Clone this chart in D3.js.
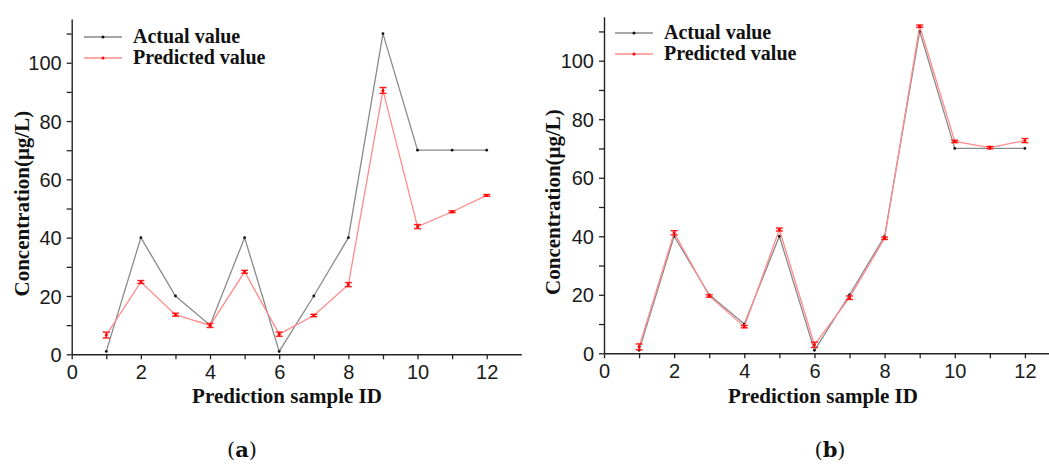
<!DOCTYPE html>
<html>
<head>
<meta charset="utf-8">
<script src="https://cdn.jsdelivr.net/npm/d3@7"></script>
<style>
  body { margin: 0; background: #fff; }
  .tick text { font-family: "Liberation Sans", Arial, sans-serif; font-size: 20px; fill: #1a1a1a; }
  .axis-title, .legend text { font-family: "Liberation Serif", "Times New Roman", serif; font-weight: bold; fill: #111; }
</style>
</head>
<body>
<div id="chart"></div>
<script>
// sample IDs
var sampleIds = [1, 2, 3, 4, 5, 6, 7, 8, 9, 10, 11, 12];

// actual concentration, same in both panels
var actualValues = [1, 40, 20, 10, 40, 1, 20, 40, 110, 70, 70, 70];

// panel (a) prediction and error
var predictedA = [6.6, 24.8, 13.6, 9.9, 28.3, 6.9, 13.3, 23.9, 90.5, 43.8, 48.9, 54.5];
var errorA = [1.0, 0.5, 0.5, 0.7, 0.5, 0.7, 0.4, 0.7, 1.0, 0.7, 0.3, 0.3];

// panel (b) prediction and error
var predictedB = [2.2, 41.2, 19.6, 9.1, 42.3, 2.9, 19.0, 39.3, 111.8, 72.4, 70.3, 72.7];
var errorB = [1.0, 0.7, 0.4, 0.4, 0.5, 0.9, 0.6, 0.4, 0.4, 0.4, 0.4, 0.7];

var xMajorTicks = [0, 2, 4, 6, 8, 10, 12];
var xMinorTicks = [1, 3, 5, 7, 9, 11];
var yMajorTicks = [0, 20, 40, 60, 80, 100];
var yMinorTicks = [10, 30, 50, 70, 90, 110];

var seriesNames = ["Actual value", "Predicted value"];
var panelLabels = ["a", "b"];

var svgWidth = 1049;
var svgHeight = 464;

var svg = d3.select("#chart").append("svg")
  .attr("width", svgWidth)
  .attr("height", svgHeight);

// layout of each panel (pixel frame only)
var panels = [
  { x0: 71.7, x1: 521.3, y0: 354.3, y1: 19.0, predicted: predictedA, error: errorA,
    yTitleX: 22, xTitleX: 287, legendX: 84, legendY: 37, tag: 242 },
  { x0: 604, x1: 1060, y0: 353.3, y1: 16.8, predicted: predictedB, error: errorB,
    yTitleX: 553, xTitleX: 823, legendX: 615, legendY: 33, tag: 830 }
];

function drawPanel(p, idx) {
  var g = svg.append("g");

  var x = d3.scaleLinear().domain([0, 13]).range([p.x0, p.x1]);
  var y = d3.scaleLinear().domain([0, 115]).range([p.y0, p.y1]);

  // minor ticks
  g.append("g")
    .attr("transform", `translate(0, ${p.y0})`)
    .call(d3.axisBottom(x).tickValues(xMinorTicks).tickSize(5).tickFormat(""))
    .call(a => a.select(".domain").remove());
  g.append("g")
    .attr("transform", `translate(${p.x0}, 0)`)
    .call(d3.axisLeft(y).tickValues(yMinorTicks).tickSize(5).tickFormat(""))
    .call(a => a.select(".domain").remove());

  // major axes
  var xAxis = g.append("g")
    .attr("transform", `translate(0, ${p.y0})`)
    .call(d3.axisBottom(x).tickValues(xMajorTicks).tickSize(5).tickSizeOuter(0).tickPadding(6));
  var yAxis = g.append("g")
    .attr("transform", `translate(${p.x0}, 0)`)
    .call(d3.axisLeft(y).tickValues(yMajorTicks).tickSize(5).tickSizeOuter(0).tickPadding(5));

  g.selectAll(".domain").attr("stroke", "#222").attr("stroke-width", 1.4);
  g.selectAll(".tick line").attr("stroke", "#222").attr("stroke-width", 1.3);
  yAxis.selectAll(".tick text").attr("dy", "0.36em");

  // axis titles
  g.append("text")
    .attr("class", "axis-title")
    .attr("x", p.xTitleX)
    .attr("y", 403)
    .attr("text-anchor", "middle")
    .style("font-size", "21px")
    .text("Prediction sample ID");

  g.append("text")
    .attr("class", "axis-title")
    .attr("transform", `translate(${p.yTitleX}, ${(p.y0 + p.y1) / 2 + 17}) rotate(-90)`)
    .attr("text-anchor", "middle")
    .attr("dy", "0.35em")
    .style("font-size", "21px")
    .text("Concentration(\u03bcg/L)");

  var line = d3.line()
    .x((d, i) => x(sampleIds[i]))
    .y(d => y(d));

  // actual series
  g.append("path")
    .datum(actualValues)
    .attr("fill", "none")
    .attr("stroke", "#8a8a8a")
    .attr("stroke-width", 1.3)
    .attr("d", line);
  g.selectAll(".dot-actual")
    .data(actualValues)
    .enter()
    .append("circle")
    .attr("cx", (d, i) => x(sampleIds[i]))
    .attr("cy", d => y(d))
    .attr("r", 1.4)
    .attr("fill", "#111");

  // predicted series
  g.append("path")
    .datum(p.predicted)
    .attr("fill", "none")
    .attr("stroke", "#ff8c8c")
    .attr("stroke-width", 1.3)
    .attr("d", line);

  var bars = g.selectAll(".err")
    .data(p.predicted)
    .enter()
    .append("g")
    .attr("stroke", "#ff1a1a")
    .attr("stroke-width", 1.4);
  bars.append("line")
    .attr("x1", (d, i) => x(sampleIds[i]))
    .attr("x2", (d, i) => x(sampleIds[i]))
    .attr("y1", (d, i) => y(d - p.error[i]))
    .attr("y2", (d, i) => y(d + p.error[i]));
  bars.append("line")
    .attr("x1", (d, i) => x(sampleIds[i]) - 3.5)
    .attr("x2", (d, i) => x(sampleIds[i]) + 3.5)
    .attr("y1", (d, i) => y(d - p.error[i]))
    .attr("y2", (d, i) => y(d - p.error[i]));
  bars.append("line")
    .attr("x1", (d, i) => x(sampleIds[i]) - 3.5)
    .attr("x2", (d, i) => x(sampleIds[i]) + 3.5)
    .attr("y1", (d, i) => y(d + p.error[i]))
    .attr("y2", (d, i) => y(d + p.error[i]));
  g.selectAll(".dot-pred")
    .data(p.predicted)
    .enter()
    .append("circle")
    .attr("cx", (d, i) => x(sampleIds[i]))
    .attr("cy", d => y(d))
    .attr("r", 1.5)
    .attr("fill", "#ff0000");

  // legend
  var legend = g.append("g").attr("class", "legend");
  var legendColors = [["#8a8a8a", "#111"], ["#ff8c8c", "#ff0000"]];
  seriesNames.forEach(function(name, k) {
    var ly = p.legendY + k * 21;
    legend.append("line")
      .attr("x1", p.legendX).attr("x2", p.legendX + 38)
      .attr("y1", ly).attr("y2", ly)
      .attr("stroke", legendColors[k][0])
      .attr("stroke-width", 1.3);
    legend.append("circle")
      .attr("cx", p.legendX + 19).attr("cy", ly)
      .attr("r", 1.5)
      .attr("fill", legendColors[k][1]);
    legend.append("text")
      .attr("x", p.legendX + 49)
      .attr("y", ly + 6)
      .style("font-size", "20px")
      .text(name);
  });

  // panel tag
  var tag = svg.append("text")
    .attr("x", p.tag)
    .attr("y", 457)
    .attr("text-anchor", "middle")
    .style("font-family", "'DejaVu Serif', 'Liberation Serif', serif")
    .style("font-size", "21px")
    .attr("fill", "#111");
  tag.append("tspan").text("(");
  tag.append("tspan").style("font-weight", "bold").text(panelLabels[idx]);
  tag.append("tspan").text(")");
}

panels.forEach(drawPanel);
</script>
</body>
</html>
